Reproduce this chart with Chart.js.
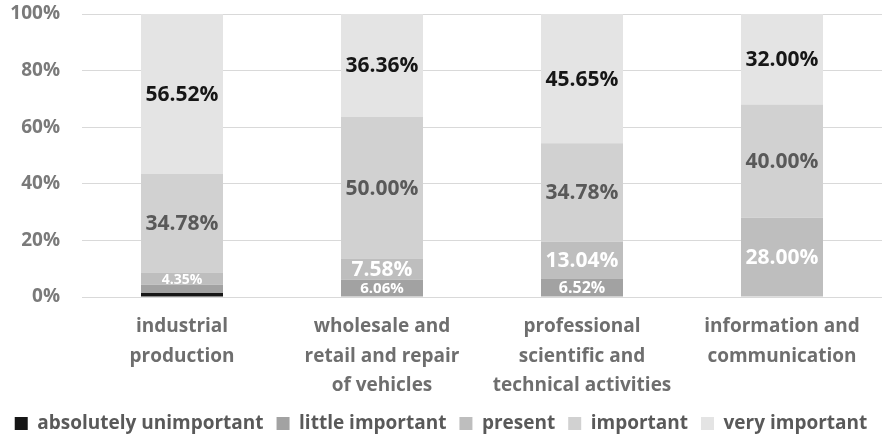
<!DOCTYPE html>
<html>
<head>
<meta charset="utf-8">
<script src="https://cdn.jsdelivr.net/npm/chart.js@4.4.1/dist/chart.umd.min.js"></script>
<style>
  html, body { margin: 0; padding: 0; background: #fff; }
  #wrap { width: 890px; height: 439px; }
</style>
</head>
<body>
<div id="wrap"><canvas id="chart"></canvas></div>
<script>
// sectors on the x axis, each label split into lines
const sectors = [
  ['industrial', 'production'],
  ['wholesale and', 'retail and repair', 'of vehicles'],
  ['professional', 'scientific and', 'technical activities'],
  ['information and', 'communication'],
];

// shares per rating, in percent
const absolutelyUnimportant = [1.45, 0, 0, 0];
const littleImportant       = [2.90, 6.06, 6.52, 0];
const present               = [4.35, 7.58, 13.04, 28.00];
const important             = [34.78, 50.00, 34.78, 40.00];
const veryImportant         = [56.52, 36.36, 45.65, 32.00];

const yTicks = [0, 20, 40, 60, 80, 100];

const FONT = '"Open Sans", sans-serif';

// segment colour, label colour and label size for each rating
const series = [
  { label: 'absolutely unimportant', data: absolutelyUnimportant, color: '#161616', text: '#ffffff', sizes: [0, 0, 0, 0] },
  { label: 'little important',       data: littleImportant,       color: '#a2a2a2', text: '#ffffff', sizes: [0, 15, 16, 0] },
  { label: 'present',                data: present,               color: '#bebebe', text: '#ffffff', sizes: [14, 21, 21, 21] },
  { label: 'important',              data: important,             color: '#d1d1d1', text: '#595959', sizes: [21, 21, 21, 21] },
  { label: 'very important',         data: veryImportant,         color: '#e4e4e4', text: '#161616', sizes: [21, 21, 21, 21] },
];

// writes the share in the middle of each segment
const segmentLabels = {
  id: 'segmentLabels',
  afterDatasetsDraw(chart) {
    const { ctx } = chart;
    ctx.save();
    ctx.textAlign = 'center';
    ctx.textBaseline = 'middle';
    series.forEach((s, di) => {
      chart.getDatasetMeta(di).data.forEach((bar, i) => {
        const size = s.sizes[i];
        if (!size || !s.data[i]) return;
        ctx.font = `bold ${size}px ${FONT}`;
        ctx.fillStyle = s.text;
        ctx.fillText(s.data[i].toFixed(2) + '%', bar.x, (bar.y + bar.base) / 2 + 1);
      });
    });
    ctx.restore();
  },
};

new Chart(document.getElementById('chart'), {
  type: 'bar',
  data: {
    labels: sectors,
    datasets: series.map(s => ({
      label: s.label,
      data: s.data,
      backgroundColor: s.color,
      borderWidth: 0,
      barPercentage: 0.41,
      categoryPercentage: 1,
    })),
  },
  options: {
    responsive: true,
    maintainAspectRatio: false,
    animation: false,
    layout: { padding: { top: 14, right: 8, left: 0, bottom: -4 } },
    plugins: {
      legend: {
        position: 'bottom',
        labels: {
          color: '#595959',
          font: { family: FONT, size: 19, weight: 'bold' },
          boxWidth: 13,
          boxHeight: 13,
          padding: 13,
        },
      },
      tooltip: { enabled: false },
    },
    scales: {
      x: {
        stacked: true,
        grid: { display: false },
        border: { display: false },
        afterFit: axis => { axis.height = 104; },
        ticks: {
          color: '#6e6e6e',
          font: { family: FONT, size: 19, weight: 'bold', lineHeight: 1.55 },
          maxRotation: 0,
          padding: 7,
        },
      },
      y: {
        stacked: true,
        min: 0,
        max: 100,
        afterBuildTicks: axis => { axis.ticks = yTicks.map(v => ({ value: v })); },
        afterFit: axis => {
          axis.width = 82;
          axis.paddingTop = 0;
          axis.paddingBottom = 0;
        },
        grid: { color: '#d9d9d9', lineWidth: 1, drawTicks: false },
        border: { display: false },
        ticks: {
          color: '#7a7a7a',
          font: { family: FONT, size: 19, weight: 'bold' },
          padding: 22,
          callback: v => v + '%',
        },
      },
    },
  },
  plugins: [segmentLabels],
});
</script>
</body>
</html>
